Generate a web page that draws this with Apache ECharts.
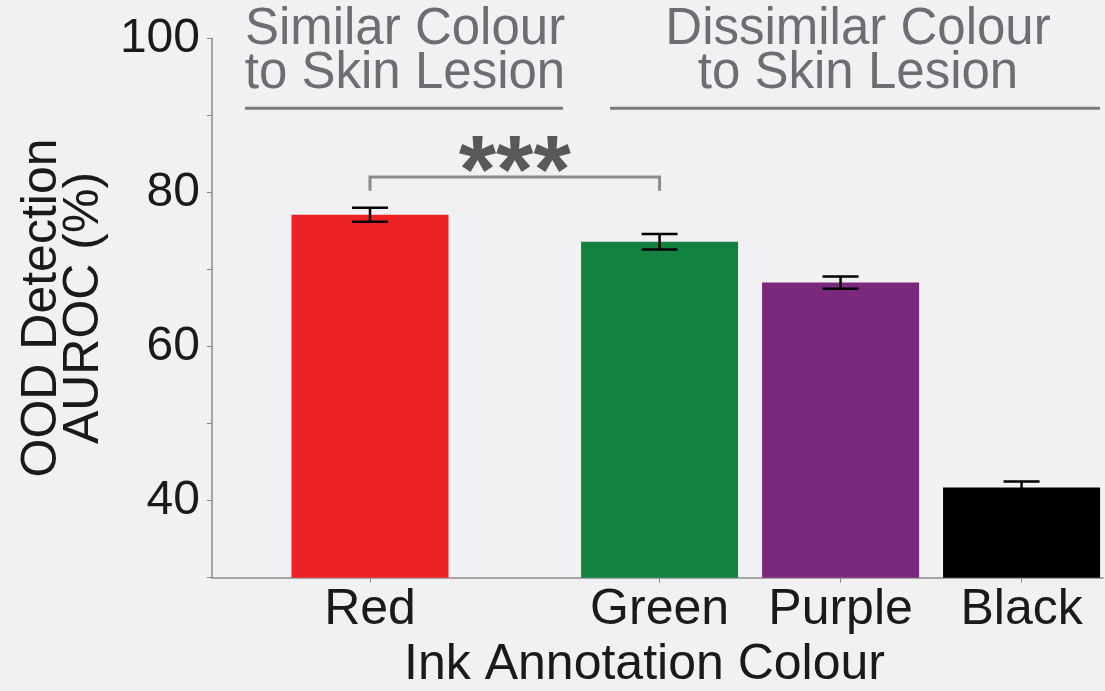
<!DOCTYPE html>
<html>
<head>
<meta charset="utf-8">
<script src="https://cdn.jsdelivr.net/npm/echarts@6/dist/echarts.min.js"></script>
<style>
  html, body { margin: 0; padding: 0; background: #f1f1f4; }
  #chart { width: 1105px; height: 691px; }
</style>
</head>
<body>
<div id="chart"></div>
<script>
// Ink colours and where each sits along the x axis (Red is set apart from the rest)
const categories = ['Red', 'Green', 'Purple', 'Black'];
const positions = [1, 2.6, 3.6, 4.6];
// Mean OOD detection AUROC (%) and its error half-width
const auroc = [77.1, 73.6, 68.3, 41.7];
const errors = [0.9, 1.0, 0.8, 0.8];
const barColours = ['#ed2224', '#138241', '#7b297c', '#000000'];
// Labelled y ticks
const yTickLabels = [40, 60, 80, 100];
// Group headings above the bars
const groupLabels = ['Similar Colour\nto Skin Lesion', 'Dissimilar Colour\nto Skin Lesion'];
// Significance bracket: the pair compared, its level and leg end, and the marker
const sigPair = ['Red', 'Green'];
const sigLevel = 82.0;
const sigLegEnd = 80.2;
const sigLabel = '***';

const FONT = '"Liberation Sans", Arial, Helvetica, sans-serif';
const chart = echarts.init(document.getElementById('chart'), null, { renderer: 'canvas' });

const barData = positions.map((x, i) => ({
  value: [x, auroc[i]],
  itemStyle: { color: barColours[i] }
}));
const errData = positions.map((x, i) => [x, auroc[i] - errors[i], auroc[i] + errors[i]]);
const sigData = [[
  positions[categories.indexOf(sigPair[0])],
  positions[categories.indexOf(sigPair[1])],
  sigLevel,
  sigLegEnd
]];

const headerStyle = {
  fill: '#6d6e71',
  font: '51px ' + FONT,
  align: 'center',
  verticalAlign: 'top',
  lineHeight: 44
};

const option = {
  backgroundColor: '#f1f1f4',
  animation: false,
  grid: {
    left: 212, right: 2, top: 38.3, bottom: 113.3,
    containLabel: false,
    outerBoundsMode: 'none'
  },
  xAxis: {
    type: 'value',
    min: 0.127,
    max: 5.05,
    name: 'Ink Annotation Colour',
    nameLocation: 'middle',
    nameGap: 62,
    nameTextStyle: { fontFamily: FONT, fontSize: 50, color: '#1a1a1a', padding: [0, 26, 0, 0] },
    axisLine: { lineStyle: { color: '#8a8a8a', width: 1.5 } },
    axisTick: { show: true, customValues: positions, length: 5, lineStyle: { color: '#8a8a8a' } },
    axisLabel: {
      customValues: positions,
      formatter: v => categories[positions.indexOf(v)] || '',
      fontFamily: FONT, fontSize: 50, color: '#1a1a1a', margin: 8
    },
    splitLine: { show: false }
  },
  yAxis: {
    type: 'value',
    min: 30,
    max: 100,
    interval: 10,
    name: 'OOD Detection\nAUROC (%)',
    nameLocation: 'middle',
    nameGap: 106,
    nameTextStyle: { fontFamily: FONT, fontSize: 50, color: '#1a1a1a', lineHeight: 42 },
    axisLine: { show: true, lineStyle: { color: '#8a8a8a', width: 1.5 } },
    axisTick: { show: true, length: 5, lineStyle: { color: '#8a8a8a' } },
    axisLabel: {
      formatter: v => (yTickLabels.indexOf(v) >= 0 ? String(v) : ''),
      fontFamily: FONT, fontSize: 48, color: '#1a1a1a', margin: 12
    },
    splitLine: { show: false }
  },
  series: [
    {
      type: 'bar',
      data: barData,
      barWidth: 157,
      z: 2
    },
    {
      // error bars: stem plus caps
      type: 'custom',
      z: 3,
      clip: false,
      data: errData,
      renderItem(params, api) {
        const x = api.value(0);
        const lo = api.coord([x, api.value(1)]);
        const hi = api.coord([x, api.value(2)]);
        const w = 18;
        const st = { stroke: '#000', lineWidth: 2.5 };
        return {
          type: 'group',
          children: [
            { type: 'line', shape: { x1: hi[0], y1: hi[1], x2: lo[0], y2: lo[1] }, style: st },
            { type: 'line', shape: { x1: hi[0] - w, y1: hi[1], x2: hi[0] + w, y2: hi[1] }, style: st },
            { type: 'line', shape: { x1: lo[0] - w, y1: lo[1], x2: lo[0] + w, y2: lo[1] }, style: st }
          ]
        };
      }
    },
    {
      // significance bracket with its marker
      type: 'custom',
      z: 4,
      clip: false,
      data: sigData,
      renderItem(params, api) {
        const a = api.coord([api.value(0), api.value(2)]);
        const b = api.coord([api.value(1), api.value(2)]);
        const legY = api.coord([api.value(0), api.value(3)])[1];
        const st = { stroke: '#8c8c8c', lineWidth: 3, fill: null };
        return {
          type: 'group',
          children: [
            { type: 'polyline', shape: { points: [[a[0], legY], a, b, [b[0], legY]] }, style: st },
            {
              type: 'text',
              style: {
                text: sigLabel,
                x: (a[0] + b[0]) / 2,
                y: a[1] - 1,
                align: 'center',
                verticalAlign: 'middle',
                font: 'bold 96px ' + FONT,
                fill: '#58595b'
              }
            }
          ]
        };
      }
    }
  ],
  graphic: [
    { type: 'text', x: 405, y: 8, style: Object.assign({ text: groupLabels[0] }, headerStyle) },
    { type: 'line', shape: { x1: 245, y1: 108.3, x2: 563, y2: 108.3 }, style: { stroke: '#7a7a7a', lineWidth: 3 } },
    { type: 'text', x: 858, y: 8, style: Object.assign({ text: groupLabels[1] }, headerStyle) },
    { type: 'line', shape: { x1: 610, y1: 108.3, x2: 1100, y2: 108.3 }, style: { stroke: '#7a7a7a', lineWidth: 3 } }
  ]
};

chart.setOption(option);
</script>
</body>
</html>
